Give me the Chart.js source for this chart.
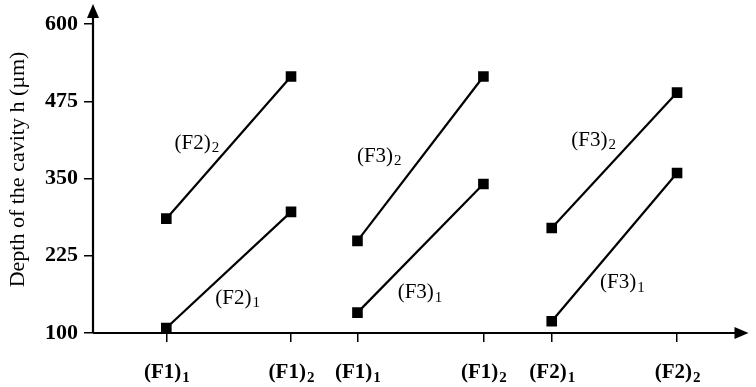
<!DOCTYPE html>
<html>
<head>
<meta charset="utf-8">
<script src="https://cdn.jsdelivr.net/npm/chart.js@4"></script>
<style>
  body { margin: 0; background: #fff; }
  #wrap { width: 756px; height: 387px; position: relative; }
</style>
</head>
<body>
<div id="wrap"><canvas id="cavityChart"></canvas></div>
<script>
// tick positions on the x axis and their labels (base, subscript)
const xPositions = [1.17, 3.16, 4.22, 6.23, 7.32, 9.32];
const xTickLabels = [['(F1)', '1'], ['(F1)', '2'], ['(F1)', '1'], ['(F1)', '2'], ['(F2)', '1'], ['(F2)', '2']];
const yTicks = [100, 225, 350, 475, 600];

// each group uses two x positions
const groupIndex = [[0, 1], [2, 3], [4, 5]];
// depth values (µm)
const lowerValues = [[108, 296], [133, 341], [119, 359]];
const upperValues = [[285, 515], [249, 515], [270, 489]];
const lowerNames = [['(F2)', '1'], ['(F3)', '1'], ['(F3)', '1']];
const upperNames = [['(F2)', '2'], ['(F3)', '2'], ['(F3)', '2']];

// where the curve names go (x value, y value)
const lowerNamePos = [[2.3, 156], [5.21, 165], [8.44, 181]];
const upperNamePos = [[1.65, 407], [4.56, 386], [7.98, 412]];

const serif = '"Liberation Serif", "DejaVu Serif", serif';

const datasets = [];
groupIndex.forEach((idx, g) => {
  [lowerValues[g], upperValues[g]].forEach(vals => {
    datasets.push({
      data: idx.map((i, k) => ({ x: xPositions[i], y: vals[k] })),
      showLine: true,
      borderColor: '#000',
      borderWidth: 2.2,
      backgroundColor: '#000',
      pointStyle: 'rect',
      pointRadius: 7.5,
      pointBorderWidth: 0,
      pointHoverRadius: 7.5
    });
  });
});

function subText(ctx, base, sub, cx, cy, size, bold) {
  const w = bold ? 'bold ' : '';
  const subSize = Math.round(size * 0.7);
  ctx.font = w + size + 'px ' + serif;
  const w1 = ctx.measureText(base).width;
  ctx.font = w + subSize + 'px ' + serif;
  const w2 = ctx.measureText(sub).width;
  const x = cx - (w1 + w2) / 2;
  ctx.textAlign = 'left';
  ctx.textBaseline = 'middle';
  ctx.fillStyle = '#000';
  ctx.font = w + size + 'px ' + serif;
  ctx.fillText(base, x, cy);
  ctx.font = w + subSize + 'px ' + serif;
  ctx.fillText(sub, x + w1 + 1, cy + 5);
}

const decorations = {
  id: 'decorations',
  afterDraw(chart) {
    const ctx = chart.ctx;
    const xs = chart.scales.x, ys = chart.scales.y;
    const area = chart.chartArea;
    ctx.save();
    ctx.strokeStyle = '#000';
    ctx.fillStyle = '#000';
    ctx.lineWidth = 2.2;
    // axes with arrow heads
    ctx.beginPath();
    ctx.moveTo(area.left, area.bottom);
    ctx.lineTo(area.right - 10, area.bottom);
    ctx.moveTo(area.left, area.bottom);
    ctx.lineTo(area.left, 14);
    ctx.stroke();
    ctx.beginPath();
    ctx.moveTo(area.right, area.bottom);
    ctx.lineTo(area.right - 14, area.bottom - 6);
    ctx.lineTo(area.right - 14, area.bottom + 6);
    ctx.closePath();
    ctx.fill();
    ctx.beginPath();
    ctx.moveTo(area.left, 4);
    ctx.lineTo(area.left - 6, 18);
    ctx.lineTo(area.left + 6, 18);
    ctx.closePath();
    ctx.fill();

    // x tick labels
    xPositions.forEach((v, i) => {
      subText(ctx, xTickLabels[i][0], xTickLabels[i][1], xs.getPixelForValue(v), area.bottom + 40, 21, true);
    });
    // curve names
    groupIndex.forEach((idx, g) => {
      subText(ctx, lowerNames[g][0], lowerNames[g][1],
        xs.getPixelForValue(lowerNamePos[g][0]), ys.getPixelForValue(lowerNamePos[g][1]), 21, false);
      subText(ctx, upperNames[g][0], upperNames[g][1],
        xs.getPixelForValue(upperNamePos[g][0]), ys.getPixelForValue(upperNamePos[g][1]), 21, false);
    });
    // y axis title
    ctx.translate(18, (area.top + area.bottom) / 2 - 9);
    ctx.rotate(-Math.PI / 2);
    ctx.font = '22px ' + serif;
    ctx.textAlign = 'center';
    ctx.textBaseline = 'middle';
    ctx.fillText('Depth of the cavity h (\u00b5m)', 0, 0);
    ctx.restore();
  }
};

new Chart(document.getElementById('cavityChart'), {
  type: 'scatter',
  data: { datasets: datasets },
  options: {
    responsive: true,
    maintainAspectRatio: false,
    animation: false,
    layout: { padding: { top: 24, right: 4, left: 0, bottom: 0 } },
    plugins: { legend: { display: false }, tooltip: { enabled: false } },
    scales: {
      x: {
        type: 'linear',
        min: 0,
        max: 10.46,
        afterBuildTicks: scale => { scale.ticks = xPositions.map(v => ({ value: v })); },
        afterFit: scale => { scale.height = 54; },
        ticks: { callback: () => '', autoSkip: false },
        grid: { drawOnChartArea: false, drawTicks: true, tickLength: 9, color: '#000', lineWidth: 1.5 },
        border: { display: false }
      },
      y: {
        min: 100,
        max: 600,
        afterBuildTicks: scale => { scale.ticks = yTicks.map(v => ({ value: v })); },
        afterFit: scale => { scale.width = 93; },
        ticks: {
          color: '#000',
          padding: 6,
          font: { family: serif, size: 22, weight: 'bold' }
        },
        grid: { drawOnChartArea: false, drawTicks: true, tickLength: 9, color: '#000', lineWidth: 1.5 },
        border: { display: false }
      }
    }
  },
  plugins: [decorations]
});
</script>
</body>
</html>
